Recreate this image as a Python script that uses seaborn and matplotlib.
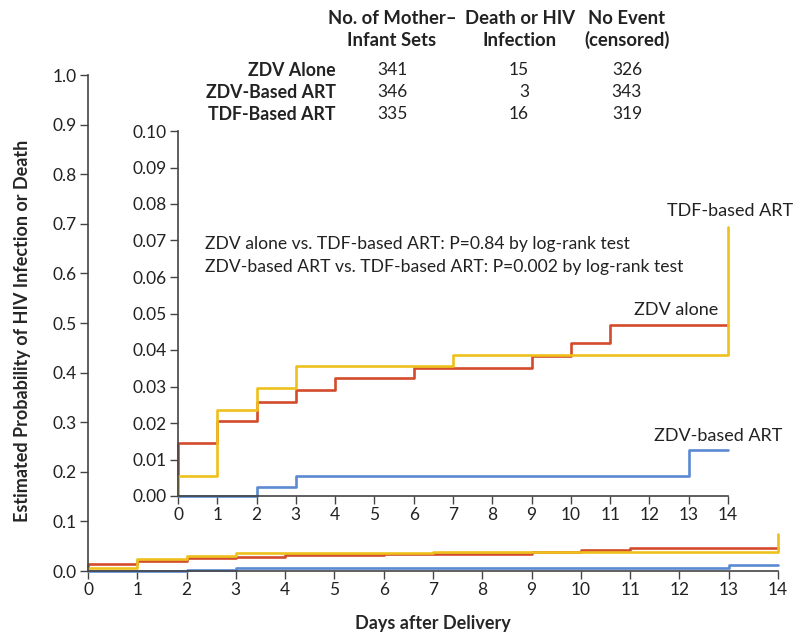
import pandas as pd
import matplotlib.pyplot as plt
import seaborn as sns

# Kaplan-Meier style step data (value at start of each day, steps-post)
days = [0, 0, 1, 2, 3, 4, 5, 6, 7, 8, 9, 10, 11, 12, 13, 14]
zdv_alone = [0.0, 0.0145, 0.0205, 0.0258, 0.0290, 0.0323, 0.0323, 0.0352, 0.0352,
             0.0352, 0.0384, 0.0419, 0.0468, 0.0468, 0.0468, 0.0468]
zdv_art = [0.0, 0.0, 0.0, 0.0025, 0.0055, 0.0055, 0.0055, 0.0055, 0.0055,
           0.0055, 0.0055, 0.0055, 0.0055, 0.0055, 0.0126, 0.0126]
tdf_art = [0.0, 0.0055, 0.0236, 0.0296, 0.0356, 0.0356, 0.0356, 0.0356, 0.0386,
           0.0386, 0.0386, 0.0386, 0.0386, 0.0386, 0.0386, 0.0737]

groups = ['ZDV Alone', 'ZDV-Based ART', 'TDF-Based ART']
n_sets = [341, 346, 335]
n_events = [15, 3, 16]
n_censored = [326, 343, 319]

colors = {'ZDV Alone': '#D24B2C', 'ZDV-Based ART': '#5B8AD2', 'TDF-Based ART': '#EEC01C'}


def main():
    sns.set_theme(style="ticks")
    plt.rcParams['font.family'] = ['Lato', 'DejaVu Sans']
    plt.rcParams['text.color'] = '#222222'
    plt.rcParams['axes.edgecolor'] = '#444444'
    plt.rcParams['xtick.color'] = '#444444'
    plt.rcParams['ytick.color'] = '#444444'
    plt.rcParams['xtick.labelcolor'] = '#222222'
    plt.rcParams['ytick.labelcolor'] = '#222222'

    df = pd.concat([
        pd.DataFrame({'day': days, 'prob': zdv_alone, 'group': 'ZDV Alone'}),
        pd.DataFrame({'day': days, 'prob': zdv_art, 'group': 'ZDV-Based ART'}),
        pd.DataFrame({'day': days, 'prob': tdf_art, 'group': 'TDF-Based ART'}),
    ], ignore_index=True)

    W, H = 796, 635
    fig = plt.figure(figsize=(W / 100, H / 100), dpi=100)

    def fx(px):
        return px / W

    def fy(py):
        return 1 - py / H

    order = ['ZDV Alone', 'TDF-Based ART', 'ZDV-Based ART']

    # main axes
    ax = fig.add_axes([fx(88), fy(571), fx(778) - fx(88), fy(75) - fy(571)])
    sns.lineplot(data=df, x='day', y='prob', hue='group', palette=colors,
                 hue_order=order, estimator=None, sort=False,
                 drawstyle='steps-post', linewidth=1.9, legend=False, ax=ax)
    ax.set_xlim(0, 14)
    ax.set_ylim(0, 1.0)
    ax.set_xticks(range(0, 15))
    ax.set_yticks([i / 10 for i in range(11)])
    ax.set_yticklabels([f'{i / 10:.1f}' for i in range(11)])
    ax.tick_params(labelsize=12.5, length=6, width=1, pad=2)
    sns.despine(ax=ax)
    for s in ['left', 'bottom']:
        ax.spines[s].set_linewidth(1.2)
    ax.set_xlabel('Days after Delivery', fontsize=13, fontweight='bold')
    ax.set_ylabel('Estimated Probability of HIV Infection or Death',
                  fontsize=13, fontweight='bold')
    ax.xaxis.set_label_coords(0.5, -0.089)
    ax.yaxis.set_label_coords(-0.083, 0.485)
    for line in ax.lines:
        line.set_clip_on(False)

    # inset axes
    ins = fig.add_axes([fx(178), fy(496), fx(728) - fx(178), fy(131) - fy(496)])
    ins.patch.set_alpha(0)
    sns.lineplot(data=df, x='day', y='prob', hue='group', palette=colors,
                 hue_order=order, estimator=None, sort=False,
                 drawstyle='steps-post', linewidth=1.9, legend=False, ax=ins)
    ins.set_xlim(0, 14)
    ins.set_ylim(0, 0.10)
    ins.set_xticks(range(0, 15))
    ins.set_yticks([i / 100 for i in range(11)])
    ins.set_yticklabels([f'{i / 100:.2f}' for i in range(11)])
    ins.tick_params(labelsize=12.5, length=6, width=1, pad=2)
    sns.despine(ax=ins)
    for s in ['left', 'bottom']:
        ins.spines[s].set_linewidth(1.2)
    ins.set_xlabel('')
    ins.set_ylabel('')
    for line in ins.lines:
        line.set_clip_on(False)

    ins.text(0.69, 0.069, 'ZDV alone vs. TDF-based ART: P=0.84 by log-rank test',
             fontsize=12.6, va='center', ha='left')
    ins.text(0.69, 0.0627, 'ZDV-based ART vs. TDF-based ART: P=0.002 by log-rank test',
             fontsize=12.6, va='center', ha='left')
    ins.text(15.65, 0.078, 'TDF-based ART', fontsize=13, va='center', ha='right', clip_on=False)
    ins.text(12.67, 0.051, 'ZDV alone', fontsize=13, va='center', ha='center', clip_on=False)
    ins.text(13.74, 0.0164, 'ZDV-based ART', fontsize=13, va='center', ha='center', clip_on=False)

    # table at the top
    hdr = dict(fontsize=13.3, fontweight='bold', va='center', ha='center')
    fig.text(fx(392), fy(18), 'No. of Mother\u2013', **hdr)
    fig.text(fx(392), fy(40), 'Infant Sets', **hdr)
    fig.text(fx(520), fy(18), 'Death or HIV', **hdr)
    fig.text(fx(520), fy(40), 'Infection', **hdr)
    fig.text(fx(627), fy(18), 'No Event', **hdr)
    fig.text(fx(627), fy(40), '(censored)', **hdr)
    for i, g in enumerate(groups):
        y = fy(70 + 22 * i)
        fig.text(fx(336), y, g, fontsize=12.8, fontweight='bold', va='center', ha='right')
        fig.text(fx(392), y, str(n_sets[i]), fontsize=12.5, va='center', ha='center')
        fig.text(fx(529), y, str(n_events[i]), fontsize=12.5, va='center', ha='right')
        fig.text(fx(627), y, str(n_censored[i]), fontsize=12.5, va='center', ha='center')

    fig.savefig('out.png', dpi=100)
    plt.close(fig)


if __name__ == "__main__":
    main()
